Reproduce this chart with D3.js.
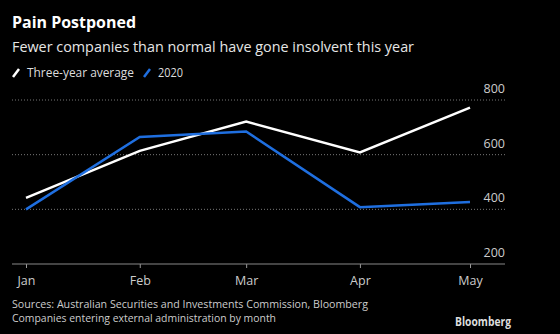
<!DOCTYPE html>
<html><head><meta charset="utf-8">
<script src="https://cdn.jsdelivr.net/npm/d3@7"></script>
<style>
html,body{margin:0;padding:0;background:#000;}
svg{display:block;}
text{font-family:"Open Sans","DejaVu Sans",sans-serif;}
</style></head>
<body>
<svg id="c" width="560" height="334"></svg>
<script>
const months = ["2020-01-01","2020-02-01","2020-03-01","2020-04-01","2020-05-01"];
const monthLabels = ["Jan","Feb","Mar","Apr","May"];
const threeYearAvg = [442, 614, 721, 608, 772];
const y2020 = [400, 665, 685, 408, 427];
const yTicks = [200, 400, 600, 800];

const parse = d3.timeParse("%Y-%m-%d");
const dates = months.map(parse);
const svg = d3.select("#c");
svg.append("rect").attr("width",560).attr("height",334).attr("fill","#000");

const x = d3.scaleTime().domain([dates[0], dates[dates.length-1]]).range([26, 470]);
const y = d3.scaleLinear().domain([200, 800]).range([264, 100]);

function fit(sel, w){ sel.attr("textLength", w).attr("lengthAdjust","spacingAndGlyphs"); return sel; }

// title
fit(svg.append("text").attr("x",12).attr("y",28).attr("fill","#fff")
  .attr("font-size",16.5).attr("font-weight","bold").text("Pain Postponed"), 124);
fit(svg.append("text").attr("x",12).attr("y",52).attr("fill","#e6e6e6")
  .attr("font-size",15).text("Fewer companies than normal have gone insolvent this year"), 402);

// legend
const leg = svg.append("g");
const legItems = [{t:"Three-year average", c:"#ffffff", x:12, w:107},{t:"2020", c:"#1f6fe0", x:143, w:25}];
legItems.forEach(it=>{
  leg.append("line").attr("x1",it.x+1).attr("y1",77).attr("x2",it.x+7).attr("y2",69)
    .attr("stroke",it.c).attr("stroke-width",2.5);
  fit(leg.append("text").attr("x",it.x+15).attr("y",77).attr("fill","#ddd").attr("font-size",12.5).text(it.t), it.w);
});

// grid
yTicks.forEach(v=>{
  if(v!==200){
    svg.append("line").attr("x1",12).attr("x2",505).attr("y1",y(v)).attr("y2",y(v))
      .attr("stroke","#777").attr("stroke-width",1).attr("stroke-dasharray","1,2");
  }
  svg.append("text").attr("x",505).attr("y",y(v)-7).attr("text-anchor","end")
    .attr("fill","#ccc").attr("font-size",12.5).text(v);
});

// x axis
const xAxis = d3.axisBottom(x).tickValues(dates).tickFormat((d,i)=>monthLabels[i]).tickSize(4).tickSizeOuter(0);
const gx = svg.append("g").attr("transform",`translate(0,${y(200)})`).call(xAxis);
gx.select(".domain").remove();
gx.selectAll(".tick line").attr("stroke","#999");
gx.selectAll(".tick text").attr("fill","#ccc").attr("font-size",12.5).attr("dy","1.15em")
  .attr("font-family","'Open Sans','DejaVu Sans',sans-serif");
svg.append("line").attr("x1",12).attr("x2",505).attr("y1",y(200)).attr("y2",y(200))
  .attr("stroke","#888").attr("stroke-width",1.2);

// lines
const line = d3.line().x((d,i)=>x(dates[i])).y(d=>y(d));
svg.append("path").datum(threeYearAvg).attr("d",line).attr("fill","none")
  .attr("stroke","#fff").attr("stroke-width",2.5);
svg.append("path").datum(y2020).attr("d",line).attr("fill","none")
  .attr("stroke","#1f6fe0").attr("stroke-width",2.5);

// footer
fit(svg.append("text").attr("x",12).attr("y",308).attr("fill","#ccc").attr("font-size",11.5)
  .text("Sources: Australian Securities and Investments Commission, Bloomberg"), 356);
fit(svg.append("text").attr("x",12).attr("y",322).attr("fill","#ccc").attr("font-size",11.5)
  .text("Companies entering external administration by month"), 264);
fit(svg.append("text").attr("x",511).attr("y",326).attr("text-anchor","end").attr("fill","#ddd")
  .attr("font-size",12).attr("font-weight","bold").text("Bloomberg"), 56);
</script>
</body></html>
